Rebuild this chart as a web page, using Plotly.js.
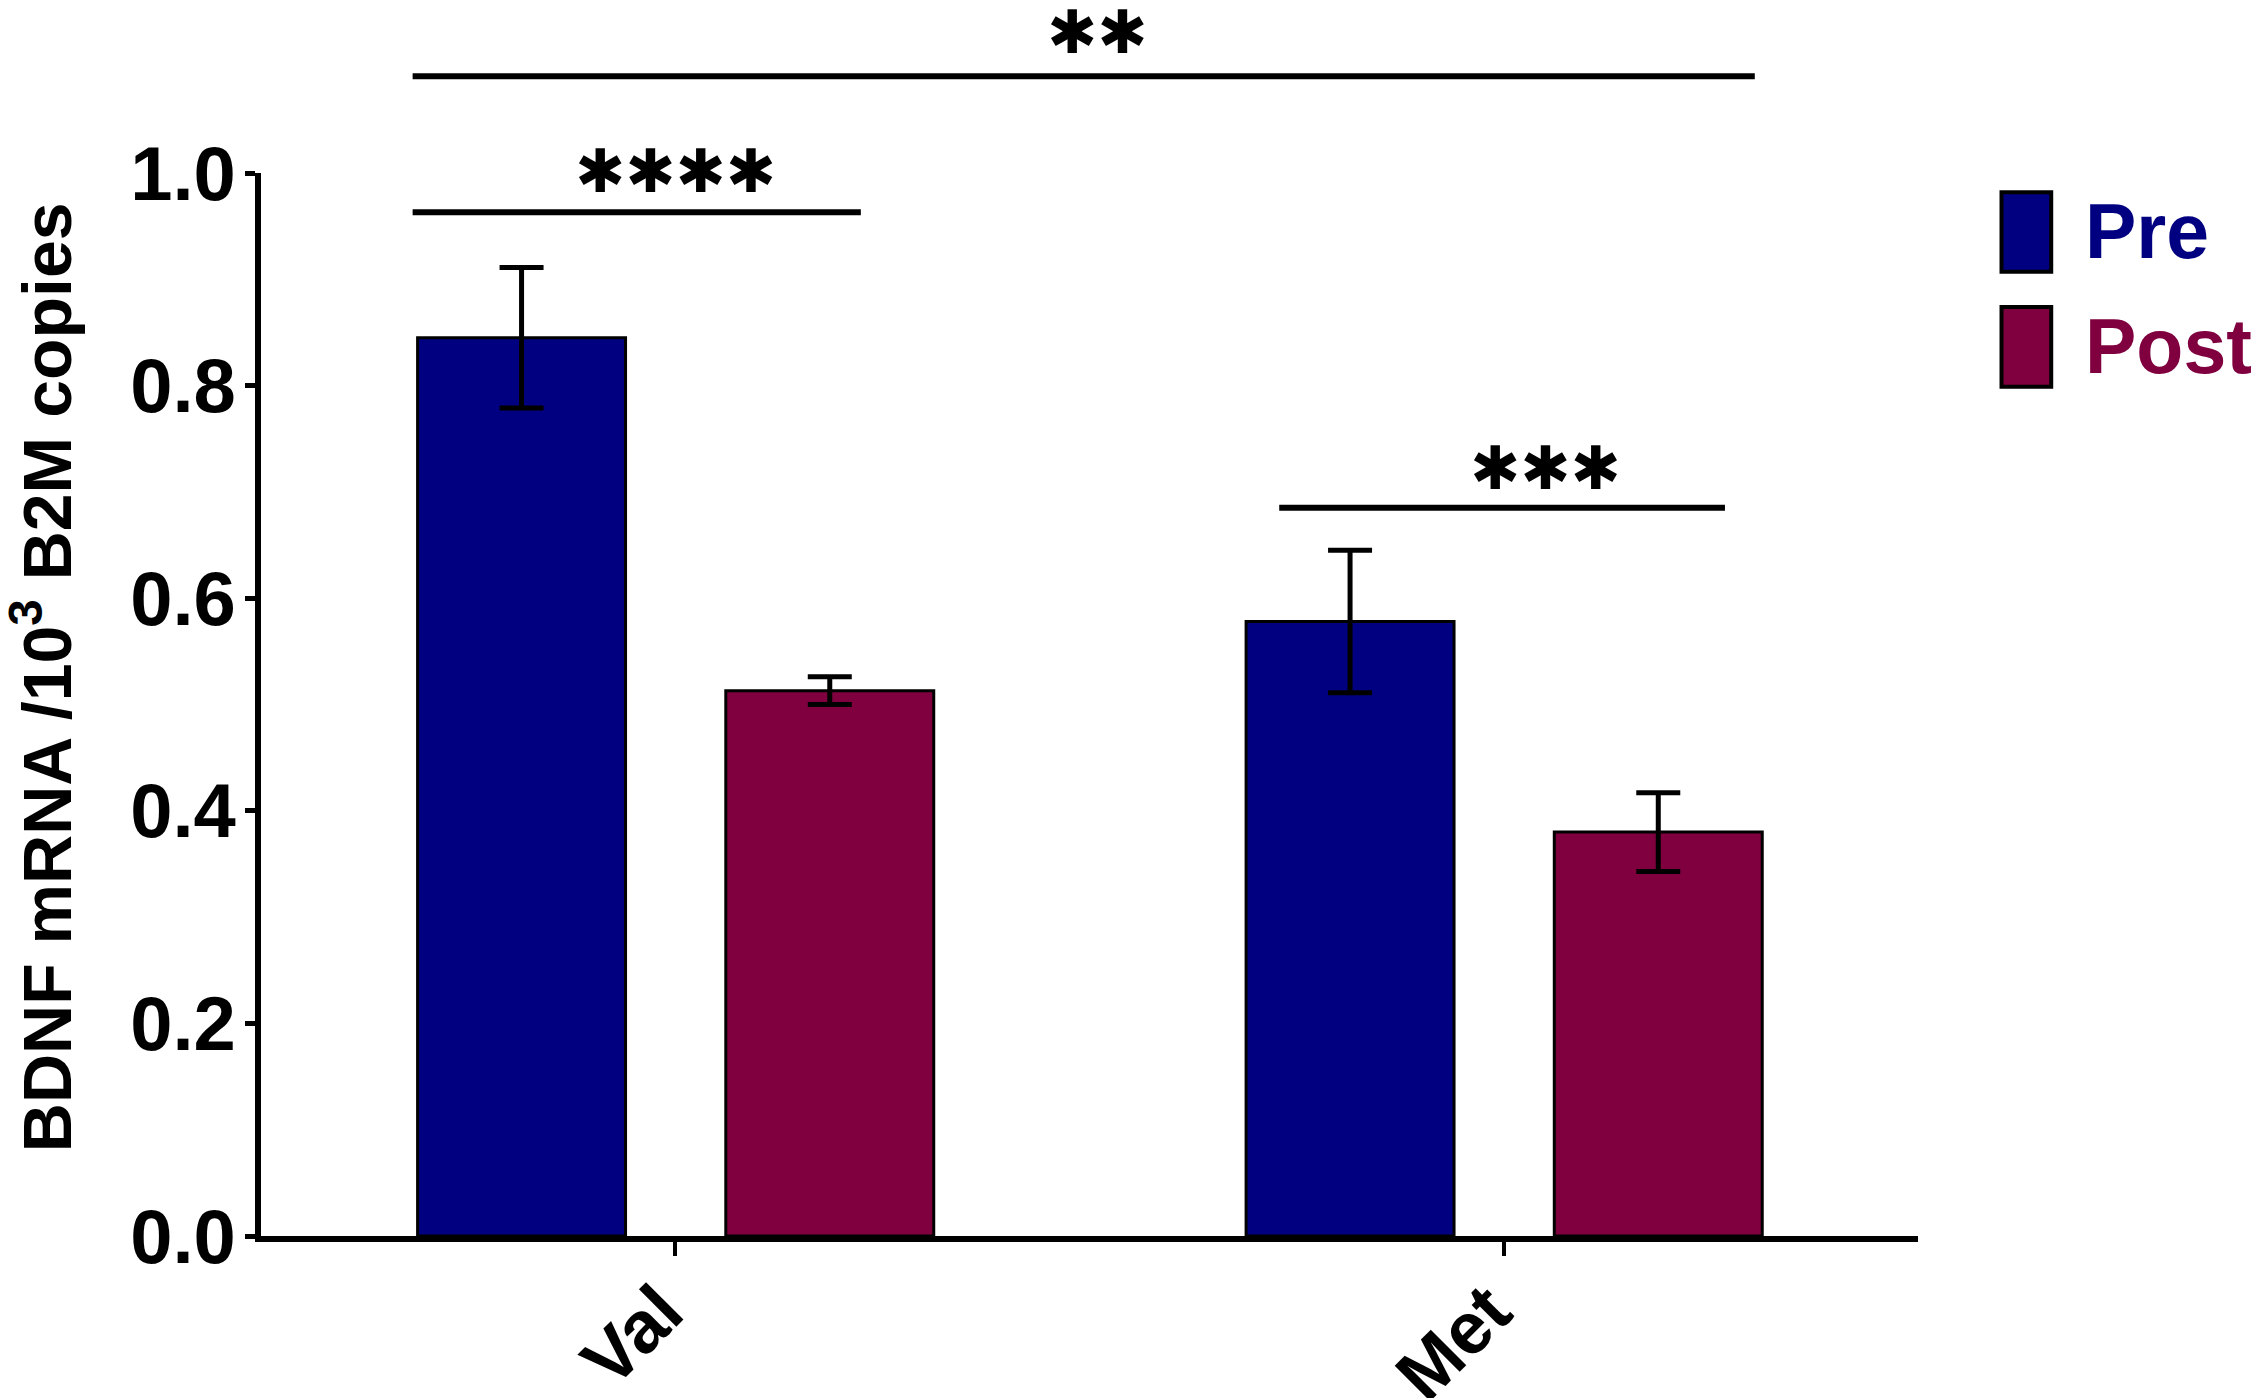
<!DOCTYPE html>
<html>
<head>
<meta charset="utf-8">
<script src="https://cdn.plot.ly/plotly-3.0.1.min.js"></script>
<style>
  html, body { margin: 0; padding: 0; background: #fff; }
  #chart { width: 2258px; height: 1398px; }
</style>
</head>
<body>
<div id="chart"></div>
<script>
// genotype groups
var categories = ['Val', 'Met'];
var seriesNames = ['Pre', 'Post'];

// BDNF mRNA per 10^3 B2M copies (mean, SEM)
var preMean = [0.845, 0.578];
var preErr = [0.066, 0.067];
var postMean = [0.513, 0.380];
var postErr = [0.013, 0.037];

// significance brackets
var sigLabels = ['****', '***', '**'];
var sigFrom = [-0.317, 0.729, -0.317];
var sigTo = [0.224, 1.267, 1.303];
var sigLevel = [0.963, 0.685, 1.091];

var colors = ['#000080', '#80003f'];
var font = 'Liberation Sans, Arial, sans-serif';
var barOffsets = [-0.311, 0.061];

function barTrace(i, y, err) {
  return {
    type: 'bar',
    name: seriesNames[i],
    x: categories,
    y: y,
    width: 0.251,
    offset: barOffsets[i],
    marker: { color: colors[i], line: { color: 'black', width: 3 } },
    error_y: { type: 'data', array: err, visible: true, color: 'black', thickness: 5, width: 22 },
    showlegend: false
  };
}

var data = [
  barTrace(0, preMean, preErr),
  barTrace(1, postMean, postErr)
];

var shapes = [];
var annotations = [];
var textX = [0.0, 1.05, 0.51];
var textY = [1.002, 0.7225, 1.133];

sigLabels.forEach(function (lab, i) {
  shapes.push({
    type: 'line', xref: 'x', yref: 'paper',
    x0: sigFrom[i], x1: sigTo[i], y0: sigLevel[i], y1: sigLevel[i],
    line: { color: 'black', width: 6 }
  });
  annotations.push({
    xref: 'x', yref: 'paper', x: textX[i], y: textY[i],
    xanchor: 'center', yanchor: 'middle',
    text: lab.replace(/\*/g, '\u2731'),
    showarrow: false,
    font: { family: 'DejaVu Sans', size: 60, color: 'black' }
  });
});

// legend drawn by hand (tall swatches like the original)
var legendTop = [0.982, 0.874];
seriesNames.forEach(function (name, i) {
  shapes.push({
    type: 'rect', xref: 'paper', yref: 'paper',
    x0: 1.0504, x1: 1.0804, y0: legendTop[i] - 0.075, y1: legendTop[i],
    fillcolor: colors[i], line: { color: 'black', width: 4 }
  });
  annotations.push({
    xref: 'paper', yref: 'paper', x: 1.0996, y: legendTop[i] - 0.037,
    xanchor: 'left', yanchor: 'middle',
    text: name, showarrow: false,
    font: { family: font, size: 77, color: colors[i], weight: 'bold' }
  });
});

// y axis title, placed a little above the plot centre as in the original
annotations.push({
  xref: 'paper', yref: 'paper', x: -0.132, y: 0.526,
  xanchor: 'center', yanchor: 'middle', textangle: -90,
  text: 'BDNF mRNA /10<sup>3</sup> B2M copies', showarrow: false,
  font: { family: font, size: 68, color: 'black', weight: 'bold' }
});

var layout = {
  width: 2258,
  height: 1398,
  margin: { l: 261, r: 340, t: 173, b: 162 },
  paper_bgcolor: 'white',
  plot_bgcolor: 'white',
  barmode: 'group',
  showlegend: false,
  xaxis: {
    type: 'category',
    range: [-0.5, 1.5],
    showline: true, linecolor: 'black', linewidth: 6,
    ticks: 'outside', ticklen: 14, tickwidth: 4, tickcolor: 'black',
    tickangle: -45,
    ticklabelstandoff: -17,
    ticklabelshift: -14,
    tickfont: { family: font, size: 73, color: 'black', weight: 'bold' },
    showgrid: false, zeroline: false
  },
  yaxis: {
    range: [0, 1.0],
    dtick: 0.2,
    tickformat: '.1f',
    showline: true, linecolor: 'black', linewidth: 6,
    ticks: 'outside', ticklen: 10, tickwidth: 5, tickcolor: 'black',
    ticklabelstandoff: -6,
    tickfont: { family: font, size: 76, color: 'black', weight: 'bold' },
    showgrid: false, zeroline: false
  },
  shapes: shapes,
  annotations: annotations
};

Plotly.newPlot('chart', data, layout, { displayModeBar: false, staticPlot: true });
</script>
</body>
</html>
